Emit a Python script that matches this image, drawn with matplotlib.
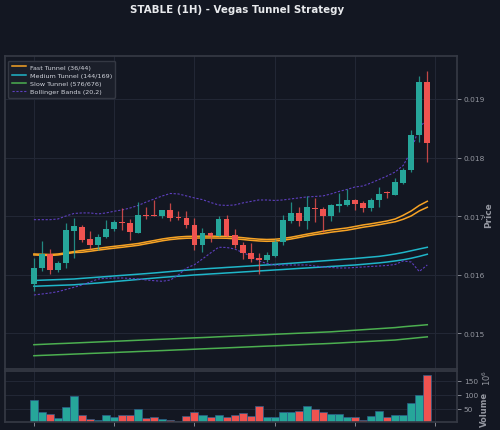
import matplotlib
matplotlib.use("Agg")
import matplotlib.pyplot as plt
import numpy as np

# candle data (price), one entry per 1H bar
opens = [0.015848, 0.016111, 0.016360, 0.016087, 0.016206, 0.016747, 0.016816, 0.016606, 0.016503, 0.016640,
         0.016782, 0.016901, 0.016879, 0.016718, 0.017026, 0.017020, 0.016998, 0.017101, 0.016981, 0.016974,
         0.016850, 0.016514, 0.016718, 0.016667, 0.016952, 0.016679, 0.016509, 0.016377, 0.016282, 0.016253,
         0.016321, 0.016555, 0.016918, 0.017055, 0.016918, 0.017145, 0.017128, 0.017009, 0.017179, 0.017191,
         0.017271, 0.017220, 0.017135, 0.017271, 0.017413, 0.017367, 0.017567, 0.017793, 0.018381, 0.019285]
highs = [0.016287, 0.016572, 0.016445, 0.016241, 0.016879, 0.016964, 0.016850, 0.016747, 0.016691, 0.016940,
         0.016940, 0.017135, 0.016952, 0.017247, 0.017157, 0.017276, 0.017106, 0.017220, 0.017094, 0.017089,
         0.016969, 0.016799, 0.016736, 0.017003, 0.017020, 0.016776, 0.016565, 0.016543, 0.016372, 0.016384,
         0.016611, 0.017020, 0.017247, 0.017157, 0.017340, 0.017316, 0.017157, 0.017208, 0.017396, 0.017464,
         0.017285, 0.017265, 0.017316, 0.017503, 0.017435, 0.017647, 0.017828, 0.018471, 0.019398, 0.019483]
lows = [0.015724, 0.016065, 0.016009, 0.016048, 0.016111, 0.016292, 0.016560, 0.016435, 0.016428, 0.016628,
        0.016747, 0.016764, 0.016594, 0.016705, 0.016947, 0.016995, 0.016964, 0.016913, 0.016930, 0.016804,
        0.016423, 0.016394, 0.016555, 0.016662, 0.016650, 0.016452, 0.016264, 0.016218, 0.016009, 0.016213,
        0.016304, 0.016509, 0.016884, 0.016838, 0.016782, 0.016906, 0.016736, 0.016913, 0.017077, 0.017179,
        0.017101, 0.017077, 0.017094, 0.017162, 0.017305, 0.017357, 0.017549, 0.017759, 0.018261, 0.017930]
closes = [0.016121, 0.016360, 0.016087, 0.016206, 0.016764, 0.016828, 0.016589, 0.016503, 0.016645, 0.016787,
          0.016896, 0.016879, 0.016725, 0.017020, 0.017003, 0.016998, 0.017101, 0.016969, 0.016964, 0.016845,
          0.016514, 0.016718, 0.016667, 0.016957, 0.016667, 0.016509, 0.016372, 0.016264, 0.016258, 0.016338,
          0.016555, 0.016935, 0.017060, 0.016918, 0.017152, 0.017118, 0.017009, 0.017186, 0.017203, 0.017276,
          0.017213, 0.017140, 0.017276, 0.017379, 0.017396, 0.017578, 0.017793, 0.018381, 0.019295, 0.018249]
# volume in millions
volume = [81, 40, 31, 18, 57, 94, 27, 15, 12, 27, 20, 27, 27, 50, 17, 21, 13, 12, 7, 25,
          40, 27, 22, 28, 20, 27, 34, 25, 60, 21, 21, 40, 40, 41, 59, 48, 38, 33, 31, 21,
          20, 9, 24, 44, 21, 28, 28, 70, 100, 171]

# indicator lines, in units of 1e-5
fast_a = [1635.5, 1635.0, 1634.6, 1635.5, 1637.5, 1639.6, 1641.5, 1643.2, 1645.1, 1646.9,
          1648.5, 1650.0, 1651.7, 1653.4, 1656.0, 1658.5, 1661.1, 1663.1, 1664.5, 1665.4,
          1665.7, 1665.9, 1665.9, 1665.7, 1665.4, 1664.5, 1663.3, 1661.9, 1660.8, 1660.2,
          1660.6, 1661.9, 1664.0, 1666.6, 1669.3, 1671.7, 1674.2, 1676.5, 1678.2, 1679.9,
          1682.4, 1685.0, 1687.0, 1689.3, 1691.8, 1695.2, 1701.5, 1708.9, 1718.3, 1725.4]
fast_b = [1633.8, 1633.3, 1632.9, 1633.8, 1635.8, 1637.9, 1638.4, 1640.1, 1642.0, 1643.8,
          1645.4, 1646.9, 1648.6, 1650.3, 1652.9, 1655.4, 1658.0, 1660.0, 1661.4, 1662.3,
          1662.6, 1662.8, 1662.8, 1662.6, 1662.3, 1661.4, 1660.2, 1658.8, 1657.7, 1657.1,
          1657.5, 1658.8, 1660.9, 1663.5, 1666.2, 1668.6, 1670.3, 1672.6, 1674.3, 1676.0,
          1678.5, 1681.1, 1683.1, 1685.4, 1687.9, 1690.4, 1694.7, 1700.4, 1708.9, 1715.2]
medium_a = [1590.3, 1590.8, 1591.3, 1591.8, 1592.3, 1592.8, 1593.9, 1594.9, 1595.9, 1596.9,
            1598.0, 1599.0, 1600.0, 1601.0, 1602.0, 1603.1, 1604.3, 1605.5, 1606.7, 1607.9,
            1609.0, 1609.9, 1610.8, 1611.6, 1612.5, 1613.3, 1614.2, 1615.0, 1615.9, 1616.7,
            1617.6, 1618.6, 1619.6, 1620.6, 1621.7, 1622.7, 1623.7, 1624.7, 1625.8, 1626.8,
            1627.8, 1629.0, 1630.2, 1631.4, 1633.3, 1635.5, 1638.0, 1641.0, 1644.0, 1646.9]
medium_b = [1580.4, 1580.9, 1581.4, 1581.9, 1582.4, 1582.9, 1584.0, 1585.0, 1586.0, 1587.2,
            1588.4, 1589.6, 1590.8, 1592.0, 1593.2, 1594.4, 1595.6, 1596.6, 1597.6, 1598.6,
            1599.7, 1600.5, 1601.4, 1602.2, 1603.1, 1603.9, 1604.8, 1605.6, 1606.5, 1607.3,
            1608.2, 1609.0, 1609.9, 1610.8, 1611.6, 1612.5, 1613.3, 1614.2, 1615.0, 1615.9,
            1616.7, 1617.9, 1619.1, 1620.3, 1621.8, 1623.6, 1625.6, 1628.2, 1631.4, 1635.0]
slow_a = [1480.7, 1481.3, 1481.9, 1482.5, 1483.0, 1483.6, 1484.2, 1484.8, 1485.4, 1486.0,
          1486.5, 1487.1, 1487.7, 1488.3, 1488.9, 1489.5, 1490.0, 1490.6, 1491.2, 1491.8,
          1492.4, 1492.9, 1493.5, 1494.2, 1494.8, 1495.4, 1496.0, 1496.6, 1497.2, 1497.8,
          1498.5, 1499.1, 1499.7, 1500.3, 1500.9, 1501.5, 1502.1, 1502.7, 1503.6, 1504.5,
          1505.4, 1506.3, 1507.2, 1508.1, 1509.0, 1509.9, 1511.3, 1512.5, 1513.6, 1514.8]
slow_b = [1461.9, 1462.5, 1463.0, 1463.6, 1464.1, 1464.7, 1465.2, 1465.8, 1466.3, 1466.9,
          1467.4, 1468.0, 1468.5, 1469.1, 1469.6, 1470.2, 1470.7, 1471.3, 1471.9, 1472.4,
          1473.0, 1473.6, 1474.2, 1474.7, 1475.3, 1475.9, 1476.5, 1477.1, 1477.7, 1478.3,
          1478.8, 1479.4, 1480.0, 1480.6, 1481.2, 1481.8, 1482.3, 1482.9, 1483.6, 1484.4,
          1485.1, 1485.8, 1486.5, 1487.3, 1488.0, 1488.7, 1490.1, 1491.4, 1492.8, 1494.1]
bb_upper = [1694.0, 1694.0, 1694.0, 1695.2, 1700.3, 1704.6, 1705.5, 1705.5, 1703.8, 1705.5,
            1708.4, 1710.6, 1714.0, 1718.3, 1724.2, 1729.4, 1734.5, 1738.7, 1737.9, 1734.5,
            1731.1, 1728.2, 1723.4, 1719.1, 1718.3, 1719.1, 1722.5, 1725.1, 1727.6, 1727.6,
            1726.8, 1727.6, 1729.4, 1731.1, 1732.8, 1733.6, 1734.5, 1737.9, 1742.2, 1745.6,
            1749.8, 1751.5, 1756.7, 1762.6, 1768.6, 1775.4, 1786.5, 1811.3, 1852.2, 1864.2]
bb_lower = [1565.5, 1567.2, 1568.9, 1571.2, 1574.9, 1578.7, 1582.6, 1587.7, 1592.8, 1594.0,
            1594.5, 1594.5, 1593.7, 1592.8, 1591.1, 1589.9, 1588.9, 1591.1, 1599.7, 1611.6,
            1617.2, 1627.0, 1637.2, 1646.9, 1646.6, 1644.0, 1638.0, 1632.1, 1623.6, 1619.3,
            1616.7, 1616.7, 1616.7, 1616.7, 1616.7, 1615.0, 1613.3, 1612.5, 1611.6, 1611.6,
            1612.5, 1613.3, 1614.2, 1615.0, 1615.9, 1617.6, 1623.6, 1621.8, 1605.6, 1616.7]

BG = "#131722"
GRID = "#232836"
SPINE = "#363a45"
TXT = "#9598a1"
UP = "#26a69a"
DOWN = "#ef5350"

x = np.arange(len(opens))
o = np.array(opens)
c = np.array(closes)
up = c >= o
colors = np.where(up, UP, DOWN)
sc = 1e-5

fig = plt.figure(figsize=(5, 4.31), dpi=100, facecolor=BG)
ax = fig.add_axes([0.01, 0.142, 0.904, 0.726], facecolor=BG)
axv = fig.add_axes([0.01, 0.019, 0.904, 0.119], facecolor=BG, sharex=ax)

for a in (ax, axv):
    for s in a.spines.values():
        s.set_color(SPINE)
        s.set_linewidth(1.2)
    a.grid(True, color=GRID, linewidth=0.7)
    a.set_axisbelow(True)
    a.yaxis.tick_right()
    a.tick_params(colors=TXT, labelsize=5.3, length=3, width=0.6, pad=2)

# tunnels and bands
ax.plot(x, np.array(fast_a) * sc, color="#f7a325", lw=1.1, label="Fast Tunnel (36/44)")
ax.plot(x, np.array(fast_b) * sc, color="#f7a325", lw=1.1)
ax.plot(x, np.array(medium_a) * sc, color="#1fb6c9", lw=1.1, label="Medium Tunnel (144/169)")
ax.plot(x, np.array(medium_b) * sc, color="#1fb6c9", lw=1.1)
ax.plot(x, np.array(slow_a) * sc, color="#4caf50", lw=1.1, label="Slow Tunnel (576/676)")
ax.plot(x, np.array(slow_b) * sc, color="#4caf50", lw=1.1)
ax.plot(x, np.array(bb_upper) * sc, color="#5e3fbf", lw=0.8, ls=(0, (2, 1.5)), label="Bollinger Bands (20,2)")
ax.plot(x, np.array(bb_lower) * sc, color="#5e3fbf", lw=0.8, ls=(0, (2, 1.5)))

# candles
ax.vlines(x, lows, highs, colors=colors, linewidth=0.9, alpha=0.8, zorder=3)
body = np.maximum(np.abs(c - o), 0.000012)
ax.bar(x, body, bottom=np.minimum(o, c), width=0.72, color=colors, zorder=4)

ax.set_xlim(-3.6, 52.7)
ax.set_ylim(0.014396, 0.019734)
ax.set_yticks([0.015, 0.016, 0.017, 0.018, 0.019])
ax.tick_params(axis="x", bottom=False, labelbottom=False)

ax.legend(loc="upper left", fontsize=4.6, facecolor="#1c202b", edgecolor=SPINE,
          labelcolor="#d1d4dc", framealpha=0.95, handlelength=2.2, handletextpad=0.6,
          borderpad=0.55, labelspacing=0.42, bbox_to_anchor=(0.0, 0.995))

# volume panel
axv.bar(x, volume, width=1.0, color=colors, edgecolor="#2b5f8a", linewidth=0.5)
axv.set_ylim(4, 186)
axv.set_yticks([50, 100, 150])
axv.set_xticks([0, 10, 20, 30, 40, 50])
axv.tick_params(axis="x", labelbottom=False)

fig.text(0.978, 1 - 215.5 / 431, "Price", color=TXT, fontsize=6.5, fontweight="bold",
         rotation=90, ha="center", va="center")
fig.text(0.968, 1 - 409 / 431, "Volume", color=TXT, fontsize=6, fontweight="bold",
         rotation=90, ha="center", va="center")
fig.text(0.973, 1 - 378 / 431, "$10^6$", color=TXT, fontsize=6, rotation=90,
         ha="center", va="center")

fig.text(0.475, 0.977, "STABLE (1H) - Vegas Tunnel Strategy", color="#e8eaed",
         fontsize=7.4, fontweight="bold", ha="center", va="center")

fig.savefig("out.png", dpi=100, facecolor=BG)
